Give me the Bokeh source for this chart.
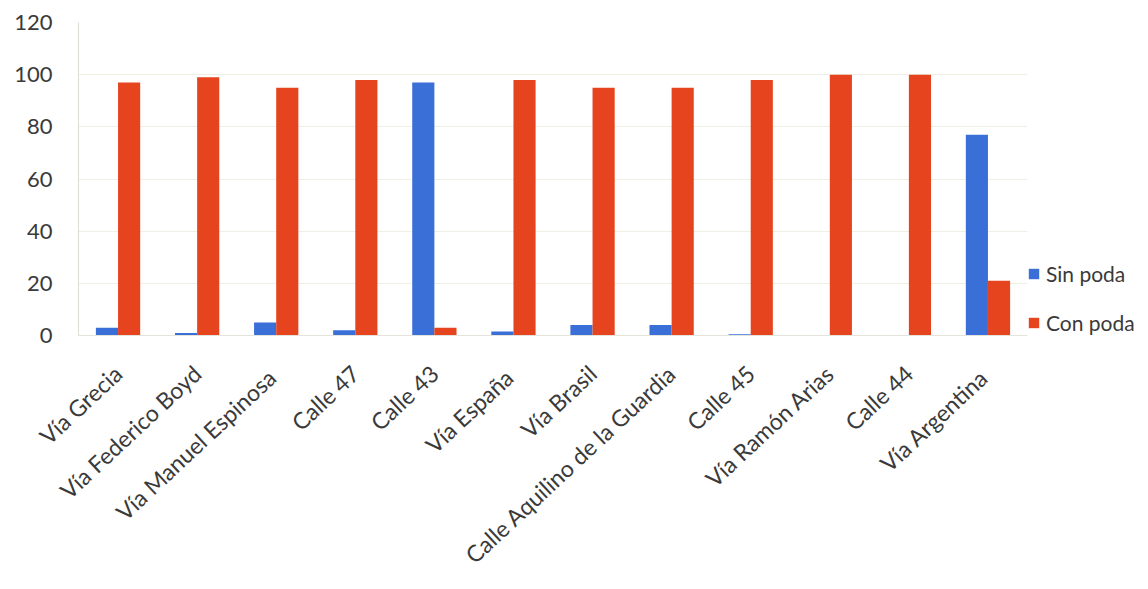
from bokeh.plotting import figure
from bokeh.models import FactorRange, Range1d, Legend, LegendItem, ColumnDataSource, FixedTicker
from bokeh.transform import dodge
from bokeh.embed import file_html
from bokeh.resources import INLINE

categories = ["Vía Grecia", "Vía Federico Boyd", "Vía  Manuel Espinosa", "Calle 47",
              "Calle 43", "Vía  España", "Vía Brasil", "Calle Aquilino de la Guardia",
              "Calle 45", "Vía Ramón Arias", "Calle 44", "Vía  Argentina"]
sin_poda = [3, 1, 5, 2, 97, 1.5, 4, 4, 0.5, 0, 0, 77]
con_poda = [97, 99, 95, 98, 3, 98, 95, 95, 98, 100, 100, 21]
series_names = ["Sin poda", "Con poda"]
y_ticks = [0, 20, 40, 60, 80, 100, 120]

BLUE = "#3b6fd8"
RED = "#e6441f"
FONT = "Lato"
TXT = "#3a3a3a"

src = ColumnDataSource(dict(cat=categories, sin=sin_poda, con=con_poda))

p = figure(x_range=FactorRange(*categories), y_range=Range1d(0, 120),
           width=1148, height=589, frame_width=949, frame_height=313,
           output_backend="svg", toolbar_location=None,
           min_border_left=78, min_border_right=121, min_border_top=22,
           min_border_bottom=254)

r1 = p.vbar(x=dodge("cat", -0.14, range=p.x_range), top="sin", width=0.28,
            source=src, fill_color=BLUE, line_color=None)
r2 = p.vbar(x=dodge("cat", 0.14, range=p.x_range), top="con", width=0.28,
            source=src, fill_color=RED, line_color=None)

p.outline_line_color = None
p.xgrid.visible = False
p.ygrid.grid_line_color = "#efefe2"
p.yaxis.ticker = FixedTicker(ticks=y_ticks)

p.yaxis.axis_line_color = "#dcdcd4"
p.yaxis.major_tick_line_color = None
p.yaxis.minor_tick_line_color = None
p.yaxis.major_label_standoff = 20
p.yaxis.major_label_text_font = FONT
p.yaxis.major_label_text_font_size = "22px"
p.yaxis.major_label_text_color = TXT

p.xaxis.axis_line_color = "#e4e4dc"
p.xaxis.major_tick_line_color = None
p.xaxis.major_label_orientation = 0.75
p.xaxis.major_label_standoff = 28
p.xaxis.major_label_text_font = FONT
p.xaxis.major_label_text_font_size = "23px"
p.xaxis.major_label_text_color = TXT

legend = Legend(items=[LegendItem(label=series_names[0], renderers=[r1]),
                       LegendItem(label=series_names[1], renderers=[r2])],
                location="bottom_left", glyph_width=13, glyph_height=13,
                label_text_font=FONT, label_text_font_size="21px",
                label_text_color=TXT, label_standoff=6, spacing=24,
                padding=0, margin=0, border_line_color=None,
                background_fill_alpha=0)
p.add_layout(legend, "right")

open("out.html", "w").write(file_html(p, INLINE))
